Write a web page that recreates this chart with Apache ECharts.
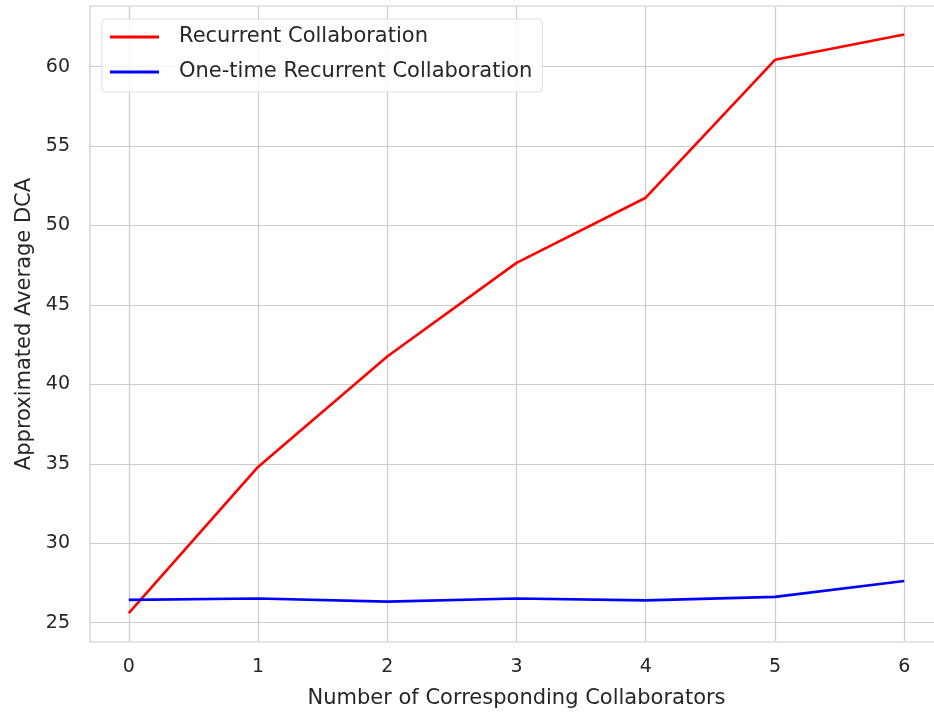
<!DOCTYPE html>
<html>
<head>
<meta charset="utf-8">
<script src="https://cdn.jsdelivr.net/npm/echarts@6/dist/echarts.min.js"></script>
<style>html,body{margin:0;padding:0;background:#fff}#c{width:934px;height:713px}</style>
</head>
<body>
<div id="c"></div>
<script>
const xValues = [0, 1, 2, 3, 4, 5, 6];
const recurrent = [25.6, 34.8, 41.75, 47.65, 51.75, 60.43, 62.02];
const oneTime = [26.43, 26.52, 26.32, 26.52, 26.4, 26.62, 27.62];
const yTicks = [25, 30, 35, 40, 45, 50, 55, 60];
const xTicks = [0, 1, 2, 3, 4, 5, 6];
const seriesNames = ['Recurrent Collaboration', 'One-time Recurrent Collaboration'];

const font = '"DejaVu Sans", sans-serif';
const txt = '#262626';
const chart = echarts.init(document.getElementById('c'), null, {renderer: 'canvas'});
chart.setOption({
  animation: false,
  backgroundColor: '#ffffff',
  grid: {left: 90, top: 6, width: 853, height: 636, outerBoundsMode: 'none', containLabel: false, show: true, borderColor: '#cccccc', borderWidth: 1.2, backgroundColor: 'transparent'},
  legend: {
    left: 102, top: 19,
    orient: 'vertical',
    icon: 'rect',
    itemWidth: 49, itemHeight: 3,
    itemGap: 11,
    padding: [6, 10, 8, 8],
    borderColor: '#dddddd', borderWidth: 1, borderRadius: 4,
    backgroundColor: 'rgba(255,255,255,0.8)',
    textStyle: {fontFamily: font, fontSize: 21, color: txt, padding: [0, 0, 0, 15], lineHeight: 24},
    data: seriesNames
  },
  xAxis: {
    type: 'value', min: -0.3, max: 6.3,
    name: 'Number of Corresponding Collaborators',
    nameLocation: 'middle', nameGap: 46,
    nameTextStyle: {fontFamily: font, fontSize: 21, color: txt},
    axisLine: {show: false},
    axisTick: {show: false, customValues: xTicks},
    axisLabel: {customValues: xTicks, fontFamily: font, fontSize: 19, color: txt, margin: 16},
    splitLine: {show: true, lineStyle: {color: '#cccccc', width: 1.2}}
  },
  yAxis: {
    type: 'value', min: 23.78, max: 63.82,
    name: 'Approximated Average DCA',
    nameLocation: 'middle', nameGap: 55,
    nameTextStyle: {fontFamily: font, fontSize: 21, color: txt},
    axisLine: {show: false},
    axisTick: {show: false, customValues: yTicks},
    axisLabel: {customValues: yTicks, fontFamily: font, fontSize: 19, color: txt, margin: 20},
    splitLine: {show: true, lineStyle: {color: '#cccccc', width: 1.2}}
  },
  series: [
    {name: seriesNames[0], type: 'line', data: xValues.map((x, i) => [x, recurrent[i]]), showSymbol: false, symbol: 'none', lineStyle: {color: '#ff0000', width: 2.6}, itemStyle: {color: '#ff0000'}},
    {name: seriesNames[1], type: 'line', data: xValues.map((x, i) => [x, oneTime[i]]), showSymbol: false, symbol: 'none', lineStyle: {color: '#0000ff', width: 2.6}, itemStyle: {color: '#0000ff'}}
  ]
});
</script>
</body>
</html>
